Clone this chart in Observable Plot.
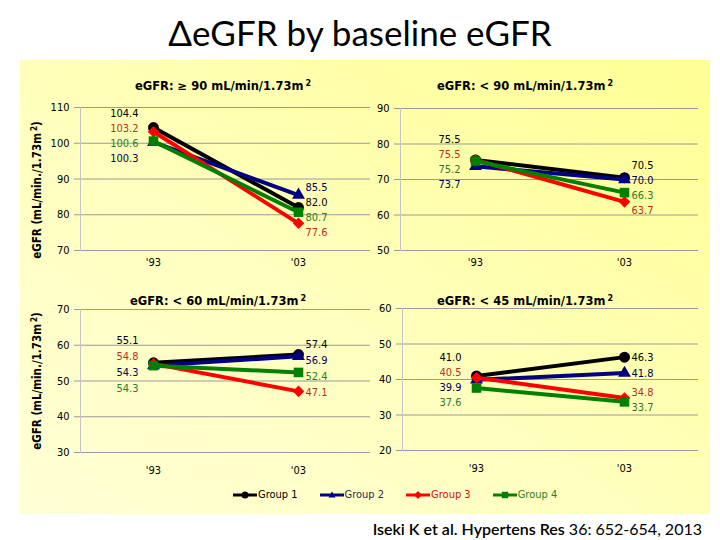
<!DOCTYPE html>
<html><head><meta charset="utf-8">
<script src="https://cdn.jsdelivr.net/npm/d3@7"></script>
<script src="https://cdn.jsdelivr.net/npm/@observablehq/plot@0.6"></script>
<style>
body{margin:0;background:#fff;}
#root{position:relative;width:720px;height:540px;overflow:hidden;font-family:"DejaVu Sans Condensed","DejaVu Sans",sans-serif;color:#000;}
#title{position:absolute;left:0;width:720px;top:12px;text-align:center;font-family:Lato,sans-serif;font-size:35px;line-height:40px;}
#bg{position:absolute;left:20px;top:60px;width:690px;height:454px;background:linear-gradient(to bottom left,#ffff94,#ffffbe 55%,#ffffd6);}
.ptitle{position:absolute;width:320px;text-align:center;font-family:"DejaVu Sans",sans-serif;font-weight:bold;font-size:11.5px;line-height:14px;white-space:nowrap;}
.ptitle sup,.ylab sup{font-size:70%;line-height:0;vertical-align:0.55em;margin-left:2px;}
.ylab{position:absolute;width:200px;height:14px;line-height:14px;text-align:center;transform:rotate(-90deg);white-space:nowrap;font-weight:bold;font-size:11.5px;}
.panel{position:absolute;}
#legend{position:absolute;left:233px;top:487px;display:flex;font-size:11px;line-height:16px;}
#legend .item{display:flex;align-items:center;margin-right:22px;}
#legend svg{margin-right:1px;}
#cite{position:absolute;right:18px;top:519px;font-family:Lato,sans-serif;font-size:16px;line-height:20px;white-space:nowrap;}
</style></head>
<body><div id="root">
<div id="title">ΔeGFR by baseline eGFR</div>
<div id="bg"></div>
<div id="cite"><b style="font-weight:600">Iseki K et al. Hypertens Res</b> 36: 652-654, 2013</div>
</div>
<script>
// ---- data ----
const years = ["'93", "'03"];
const groups = ["Group 1", "Group 2", "Group 3", "Group 4"];
const panelTitles = ["eGFR: \u2265 90 mL/min/1.73m", "eGFR: < 90 mL/min/1.73m", "eGFR: < 60 mL/min/1.73m", "eGFR: < 45 mL/min/1.73m"];
// values per panel: ['93, '03]
const group1 = [[104.4, 82.0], [75.5, 70.5], [55.1, 57.4], [41.0, 46.3]];
const group2 = [[100.3, 85.5], [73.7, 70.0], [54.3, 56.9], [39.9, 41.8]];
const group3 = [[103.2, 77.6], [75.5, 63.7], [54.8, 47.1], [40.5, 34.8]];
const group4 = [[100.6, 80.7], [75.2, 66.3], [54.3, 52.4], [37.6, 33.7]];
const yDomains = [[70, 110], [50, 90], [30, 70], [20, 60]];
const yTicks = [[70, 80, 90, 100, 110], [50, 60, 70, 80, 90], [30, 40, 50, 60, 70], [20, 30, 40, 50, 60]];
const yLabel = "eGFR (mL/min./1.73m";

// ---- styles ----
const seriesValues = [group1, group2, group3, group4];
const lineColors = ["#000000", "#000080", "#ff0000", "#008000"];
const labelColors = ["#000000", "#00005a", "#b5301e", "#2a7a2a"];
const symbols = ["circle", "triangle", "diamond2", "square"];
const symbolR = [5.5, 4.8, 5.2, 5.4];
const legendText = ["#000000", "#2a2a55", "#cc1111", "#2e7d1e"];

const geo = [
  {left: 20, top: 90, width: 352, height: 190, ml: 60, mr: 2, mt: 17, mb: 30, xpad: 8, gap: 15, tx: 223, ty: 79},
  {left: 362, top: 90, width: 340, height: 190, ml: 38, mr: 4, mt: 18, mb: 30, xpad: 8, gap: 15, tx: 525, ty: 79},
  {left: 20, top: 290, width: 352, height: 192, ml: 60, mr: 2, mt: 19, mb: 30, xpad: 14, gap: 16, tx: 218, ty: 294},
  {left: 362, top: 290, width: 340, height: 190, ml: 40, mr: 4, mt: 18, mb: 30, xpad: 14, gap: 15, tx: 525, ty: 294}
];

const root = document.getElementById("root");
const font = '"DejaVu Sans Condensed","DejaVu Sans",sans-serif';

function placeLabels(items, lo, hi, k, gap) {
  // sort by value desc; desired pixel = (hi - v) * k ; cluster to keep min gap
  const sorted = items.slice().sort((a, b) => (b.value - a.value) || (a.idx - b.idx));
  let clusters = sorted.map(d => ({items: [d], desired: [(hi - d.value) * k]}));
  const pos = c => d3.mean(c.desired) - (c.items.length - 1) * gap / 2;
  let merged = true;
  while (merged) {
    merged = false;
    for (let i = 0; i < clusters.length - 1; i++) {
      const a = clusters[i], b = clusters[i + 1];
      const aEnd = pos(a) + (a.items.length - 1) * gap;
      if (aEnd + gap > pos(b)) {
        clusters.splice(i, 2, {items: a.items.concat(b.items), desired: a.desired.concat(b.desired)});
        merged = true;
        break;
      }
    }
  }
  const out = [];
  for (const c of clusters) {
    const p0 = pos(c);
    c.items.forEach((d, j) => out.push({...d, ly: hi - (p0 + j * gap) / k}));
  }
  return out;
}

geo.forEach((g, p) => {
  const [lo, hi] = yDomains[p];
  const plotH = g.height - g.mt - g.mb;
  const k = plotH / (hi - lo);
  const marks = [
    Plot.gridY(yTicks[p], {stroke: "#9a9a9a", strokeOpacity: 1}),
    Plot.frame({anchor: "left", stroke: "#c4c4c4"}),
    Plot.axisY(yTicks[p], {tickSize: 6, tickPadding: 5, stroke: "#9a9a9a", fill: "#000", label: null}),
    Plot.axisX({tickSize: 0, tickPadding: g.xpad, fill: "#000", label: null})
  ];
  groups.forEach((grp, i) => {
    const rows = years.map((yr, j) => ({year: yr, value: seriesValues[i][p][j]}));
    marks.push(Plot.line(rows, {x: "year", y: "value", stroke: lineColors[i], strokeWidth: 4}));
    marks.push(Plot.dot(rows, {x: "year", y: "value", symbol: symbols[i], fill: lineColors[i], stroke: "none", r: symbolR[i]}));
  });
  years.forEach((yr, j) => {
    const items = groups.map((grp, i) => ({idx: i, year: yr, value: seriesValues[i][p][j], color: labelColors[i]}));
    const placed = placeLabels(items, lo, hi, k, g.gap);
    marks.push(Plot.text(placed, {
      x: "year", y: "ly", text: d => d.value.toFixed(1), fill: "color",
      textAnchor: j === 0 ? "end" : "start", dx: j === 0 ? -15 : 7
    }));
  });
  const chart = Plot.plot({
    width: g.width, height: g.height,
    marginLeft: g.ml, marginRight: g.mr, marginTop: g.mt, marginBottom: g.mb,
    style: {background: "transparent", fontFamily: font, fontSize: "11px", color: "#000", overflow: "visible"},
    x: {type: "point", domain: years, padding: 0.5},
    y: {domain: yDomains[p]},
    color: {type: "identity"},
    marks
  });
  const wrap = document.createElement("div");
  wrap.className = "panel";
  wrap.style.left = g.left + "px";
  wrap.style.top = g.top + "px";
  wrap.appendChild(chart);
  root.appendChild(wrap);

  const t = document.createElement("div");
  t.className = "ptitle";
  t.style.left = (g.tx - 160) + "px";
  t.style.top = g.ty + "px";
  t.innerHTML = panelTitles[p].replace("<", "&lt;") + "<sup>2</sup>";
  root.appendChild(t);
});

[190, 381].forEach(cy => {
  const yl = document.createElement("div");
  yl.className = "ylab";
  yl.style.left = (37 - 100) + "px";
  yl.style.top = (cy - 7) + "px";
  yl.innerHTML = yLabel + "<sup>2</sup>)";
  root.appendChild(yl);
});

const legend = document.createElement("div");
legend.id = "legend";
const shapes = {
  circle: '<circle cx="12" cy="8" r="3.5"/>',
  triangle: '<path d="M12,4.5L15.5,10.5L8.5,10.5Z"/>',
  diamond2: '<path d="M12,4L16,8L12,12L8,8Z"/>',
  square: '<rect x="8.8" y="4.8" width="6.4" height="6.4"/>'
};
groups.forEach((grp, i) => {
  const it = document.createElement("div");
  it.className = "item";
  it.innerHTML = `<svg width="24" height="16"><line x1="0" x2="24" y1="8" y2="8" stroke="${lineColors[i]}" stroke-width="3"/><g fill="${lineColors[i]}">${shapes[symbols[i]]}</g></svg><span style="color:${legendText[i]}">${grp}</span>`;
  legend.appendChild(it);
});
root.appendChild(legend);
</script>
</body></html>
